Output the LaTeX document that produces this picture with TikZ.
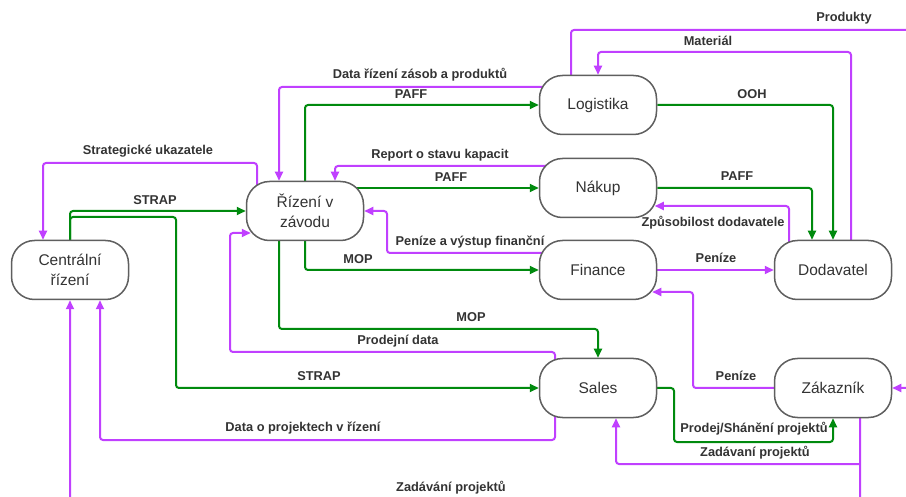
\documentclass[tikz,border=0pt]{standalone}
\usepackage{fontspec}
\setmainfont{Liberation Sans}
\usetikzlibrary{arrows.meta,calc}
\pgfdeclarelayer{bg}
\pgfsetlayers{bg,main}
\definecolor{pur}{RGB}{192,64,255}
\definecolor{grn}{RGB}{0,138,14}
\definecolor{txt}{RGB}{51,51,51}
\definecolor{bord}{RGB}{95,95,95}
\begin{document}
\begin{tikzpicture}[x=1pt,y=-1pt,
  proc/.style={draw=bord, line width=1.5pt, fill=white, rounded corners=23pt,
    minimum width=117pt, minimum height=59pt, inner sep=0pt, align=center,
    font=\fontsize{15.5}{20}\selectfont, text=txt},
  pflow/.style={draw=pur, line width=2pt, rounded corners=3pt, -{Triangle[length=9pt,width=8pt]}},
  gflow/.style={draw=grn, line width=2pt, rounded corners=3pt, -{Triangle[length=9pt,width=8pt]}},
  lab/.style={font=\bfseries\fontsize{12.8}{14}\selectfont, text=txt, inner sep=0pt}]
\useasboundingbox (0,0) rectangle (906,497);
\begin{pgfonlayer}{bg}
  \fill[white] (0,0) rectangle (906,497);
\end{pgfonlayer}

% nodes
\node[proc] (C) at (70,270) {Centrální\\řízení};
\node[proc] (R) at (305,211) {Řízení v\\závodu};
\node[proc] (L) at (598,105) {Logistika};
\node[proc] (N) at (598,188) {Nákup};
\node[proc] (F) at (598,270) {Finance};
\node[proc] (D) at (833,270) {Dodavatel};
\node[proc] (S) at (598,388) {Sales};
\node[proc] (Z) at (833,388) {Zákazník};
\coordinate (zb) at (860,464);

\begin{pgfonlayer}{bg}
  % Strategicke ukazatele
  \draw[pflow] ($(R.center)+(-48,0)$) -- (257,163) -- (43,163) -- ($(C.north)+(-27,0)$);
  % STRAP C -> R
  \draw[gflow] (C.center) |- (R.west);
  % STRAP C -> S
  \draw[gflow] (C.center) -- (70,217) -- (176,217) |- (S.west);
  % Data o projektech v rizeni
  \draw[pflow] ($(S.center)+(-43,0)$) -- (555,440) -| ($(C.south)+(30,0)$);
  % Zadavani projektu (long)
  \draw[pflow] ($(Z.center)+(27,0)$) -- (860,515) -| (C.south);
  % Zadavani projektu -> Sales
  \draw[pflow] (zb) -| ($(S.south)+(18,0)$);
  % Prodejni data
  \draw[pflow] ($(S.center)+(-43,0)$) -- (555,352) -- (230,352) -- (230,233) -- ($(R.west)+(5,22)$);
  % MOP R -> S
  \draw[gflow] ($(R.center)+(-26,0)$) -- (279,329) -| (S.north);
  % MOP R -> F
  \draw[gflow] (R.center) |- (F.west);
  % Penize a vystup financni
  \draw[pflow] ($(F.center)+(0,-17)$) -- (387,253) |- (R.east);
  % PAFF R -> N
  \draw[gflow] ($(R.center)+(0,-23)$) -- (N.west);
  % Report o stavu kapacit
  \draw[pflow] ($(N.center)+(0,-22)$) -- (335,166) -- ($(R.north)+(30,0)$);
  % PAFF R -> L
  \draw[gflow] (R.center) |- (L.west);
  % Data rizeni zasob a produktu
  \draw[pflow] ($(L.center)+(0,-18)$) -- (279,87) -- ($(R.north)+(-26,0)$);
  % Produkty
  \draw[pflow] ($(L.center)+(-27,0)$) -- (571,30) -- (925,30) |- (Z.east);
  % Material
  \draw[pflow] ($(D.center)+(18,0)$) -- (851,52) -| (L.north);
  % OOH
  \draw[gflow] (L.east) -| (D.north);
  % PAFF N -> D
  \draw[gflow] (N.east) -| ($(D.north)+(-21,0)$);
  % Zpusobilost dodavatele
  \draw[pflow] ($(D.center)+(-44,0)$) -- (789,206) -- ($(N.east)+(-2.5,18)$);
  % Penize F -> D
  \draw[pflow] (F.east) -- (D.west);
  % Penize Z -> F
  \draw[pflow] (Z.center) -- (693,388) |- ($(F.east)+(-5,22)$);
  % Prodej/Shaneni projektu
  \draw[gflow] (S.center) -- (674,388) -- (674,442) -| (Z.south);
\end{pgfonlayer}

% labels
\node[lab] (l1) at (148,151) {Strategické ukazatele};
\node[lab] (l2) at (155,200) {STRAP};
\node[lab] (l3) at (420,75) {Data řízení zásob a produktů};
\node[lab] (l4) at (411,94) {PAFF};
\node[lab] (l5) at (440,155) {Report o stavu kapacit};
\node[lab] (l6) at (451,177) {PAFF};
\node[lab] (l7) at (470,242) {Peníze a výstup finanční};
\node[lab] (l8) at (358,259) {MOP};
\node[lab] (l9) at (471,317) {MOP};
\node[lab] (l10) at (398,341) {Prodejní data};
\node[lab] (l11) at (319,376) {STRAP};
\node[lab] (l12) at (303,428) {Data o projektech v řízení};
\node[lab] (l13) at (451,488) {Zadávání projektů};
\node[lab] (l14) at (844,18) {Produkty};
\node[lab] (l15) at (708,41) {Materiál};
\node[lab] (l16) at (752,94) {OOH};
\node[lab] (l17) at (737,176) {PAFF};
\node[lab] (l18) at (713,223) {Způsobilost dodavatele};
\node[lab] (l19) at (716,258) {Peníze};
\node[lab] (l20) at (736,376) {Peníze};
\node[lab] (l21) at (754,429) {Prodej/Shánění projektů};
\node[lab] (l22) at (755,453) {Zadávaní projektů};
\end{tikzpicture}
\end{document}
